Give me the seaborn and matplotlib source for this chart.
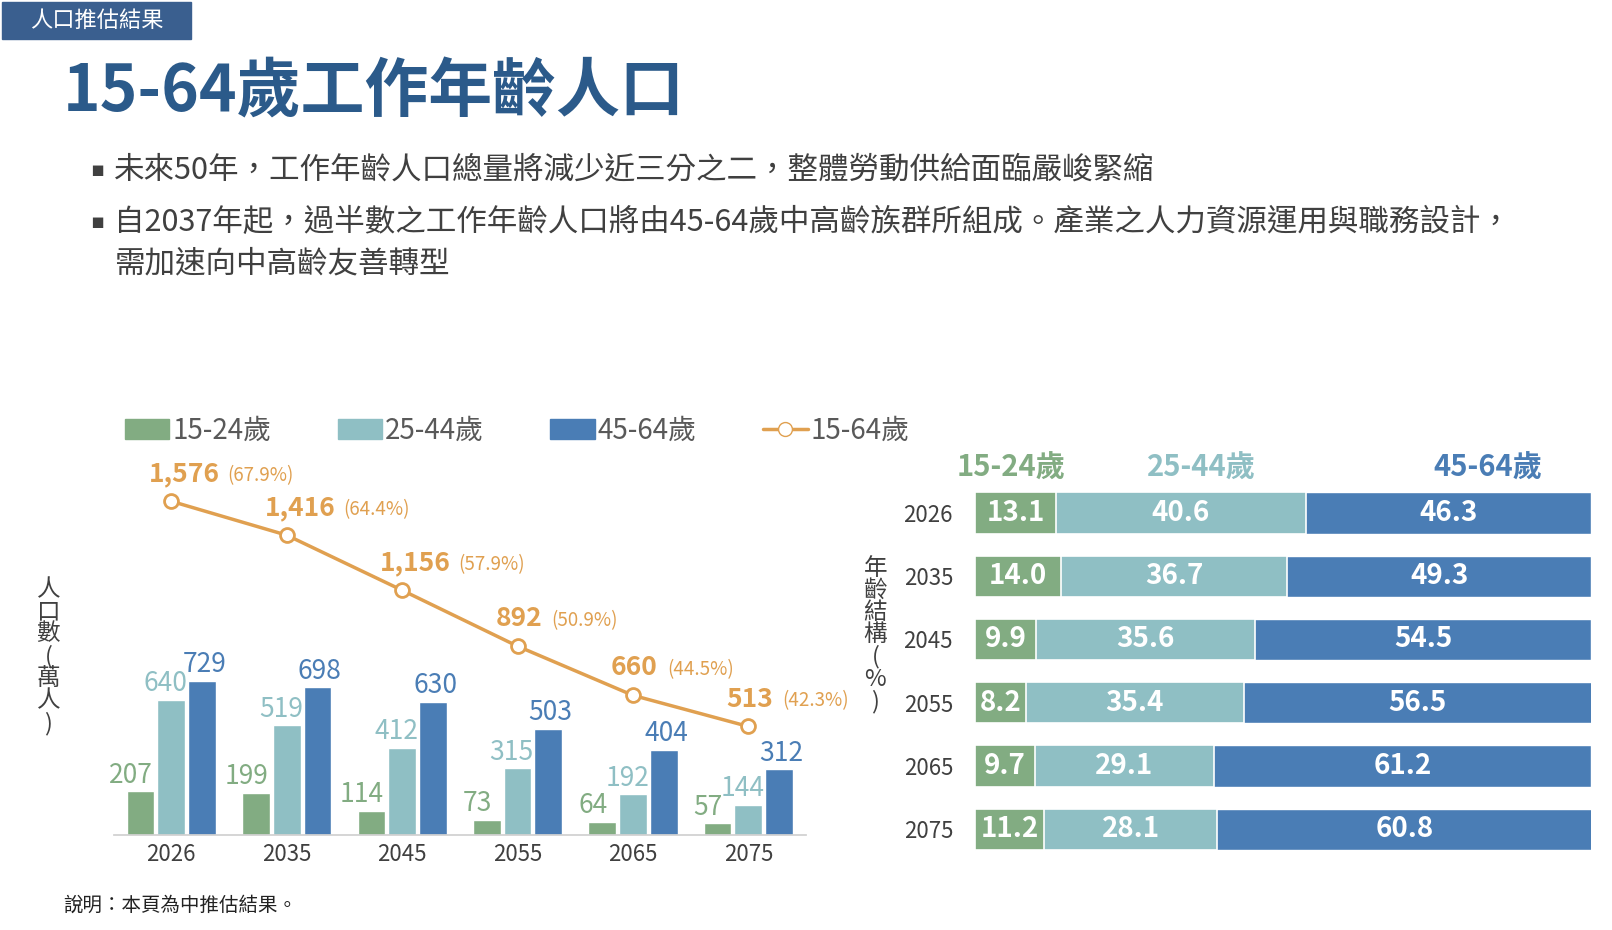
import numpy as np
import pandas as pd
import matplotlib
matplotlib.use("Agg")
import matplotlib.pyplot as plt
import seaborn as sns

years = ["2026", "2035", "2045", "2055", "2065", "2075"]
groups = ["15-24歲", "25-44歲", "45-64歲"]
pop_1524 = [207, 199, 114, 73, 64, 57]
pop_2544 = [640, 519, 412, 315, 192, 144]
pop_4564 = [729, 698, 630, 503, 404, 312]
pop_total = [1576, 1416, 1156, 892, 660, 513]
pct_total = ["67.9%", "64.4%", "57.9%", "50.9%", "44.5%", "42.3%"]
share_1524 = [13.1, 14.0, 9.9, 8.2, 9.7, 11.2]
share_2544 = [40.6, 36.7, 35.6, 35.4, 29.1, 28.1]
share_4564 = [46.3, 49.3, 54.5, 56.5, 61.2, 60.8]

GREEN, TEAL, BLUE, ORANGE = "#82ac82", "#8fbfc4", "#4a7db5", "#e0a050"
NAVY = "#2b5a8a"
GREY = "#404040"
COLS = [GREEN, TEAL, BLUE]

sns.set_theme(style="white")
plt.rcParams["font.family"] = ["Noto Sans CJK TC", "DejaVu Sans"]

fig = plt.figure(figsize=(16.12, 9.3), dpi=100)

# ─── header ──────────────────────────────────────────────────────────────
fig.patches.append(plt.Rectangle((0.0013, 0.958), 0.117, 0.04, transform=fig.transFigure,
                                 color="#3a5f8f", zorder=0))
fig.text(0.06, 0.978, "人口推估結果", color="white", fontsize=16, ha="center", va="center")
fig.text(0.039, 0.9, "15-64歲工作年齡人口", color=NAVY, fontsize=46, fontweight="bold",
         va="center")
bullets = [
    (0.817, "未來50年，工作年齡人口總量將減少近三分之二，整體勞動供給面臨嚴峻緊縮"),
    (0.761, "自2037年起，過半數之工作年齡人口將由45-64歲中高齡族群所組成。產業之人力資源運用與職務設計，"),
    (0.716, "需加速向中高齡友善轉型"),
]
for i, (y, t) in enumerate(bullets):
    if i < 2:
        fig.text(0.056, y, "▪", color=GREY, fontsize=15, va="center",
                 family=["DejaVu Sans"])
    fig.text(0.071, y, t, color=GREY, fontsize=22, va="center")
fig.text(0.039, 0.027, "說明：本頁為中推估結果。", color="#222222", fontsize=14, va="center")

# ─── left: population bars + total line ─────────────────────────────────
ax = fig.add_axes([0.0705, 0.102, 0.4295, 0.41])
df = pd.DataFrame({
    "year": years * 3,
    "group": [g for g in groups for _ in years],
    "value": pop_1524 + pop_2544 + pop_4564,
})
sns.barplot(data=df, x="year", y="value", hue="group", palette=COLS, ax=ax,
            width=0.8, gap=0.1, legend=False, saturation=1)
for cont, col in zip(ax.containers, COLS):
    for bar in cont:
        h = bar.get_height()
        dx = {GREEN: -0.08, TEAL: -0.05, BLUE: 0.02}[col]
        ax.text(bar.get_x() + bar.get_width() / 2 + dx, h + 12, f"{h:.0f}", color=col,
                fontsize=19, ha="center", va="bottom")
xs = np.arange(len(years))
sns.lineplot(x=xs, y=pop_total, ax=ax, color=ORANGE, lw=2.5, marker="o", markersize=10,
             markerfacecolor="white", markeredgecolor=ORANGE, markeredgewidth=2)
for x, v, p in zip(xs, pop_total, pct_total):
    s = f"{v:,}"
    ax.annotate(s, (x, v), xytext=(-16, 10), textcoords="offset points",
                color=ORANGE, fontsize=19, fontweight="bold", va="bottom")
    w = sum(4.5 if c == "," else 11.5 for c in s)
    ax.annotate(f"({p})", (x, v), xytext=(-16 + w + 6, 11),
                textcoords="offset points", color=ORANGE, fontsize=13.5, va="bottom")
ax.set_xlim(-0.5, 5.5)
ax.set_ylim(0, 1800)
ax.set_xlabel("")
ax.set_ylabel("")
ax.set_yticks([])
ax.tick_params(axis="x", labelsize=16, colors=GREY, length=0, pad=6)
for s in ["top", "right", "left"]:
    ax.spines[s].set_visible(False)
ax.spines["bottom"].set_color("#d0d0d0")
fig.text(0.030, 0.294, "人\n口\n數\n(\n萬\n人\n)", color=GREY, fontsize=17,
         ha="center", va="center", linespacing=0.95)

# legend
handles = [plt.Rectangle((0, 0), 1, 1, color=c) for c in COLS]
handles.append(plt.Line2D([], [], color=ORANGE, lw=2.5, marker="o", markersize=10,
                          markerfacecolor="white", markeredgecolor=ORANGE))
fig.legend(handles, groups + ["15-64歲"], loc="center left", bbox_to_anchor=(0.062, 0.537),
           ncol=4, frameon=False, fontsize=20, handlelength=1.6, columnspacing=2.4,
           handletextpad=0.1, labelcolor="#595959")

# ─── right: stacked share bars ──────────────────────────────────────────
ax2 = fig.add_axes([0.605, 0.0744, 0.382, 0.408])
cum2 = [a + b for a, b in zip(share_1524, share_2544)]
cum3 = [a + b for a, b in zip(cum2, share_4564)]
sns.barplot(x=cum3, y=years, color=BLUE, orient="h", ax=ax2, width=0.65, saturation=1)
sns.barplot(x=cum2, y=years, color=TEAL, orient="h", ax=ax2, width=0.65, saturation=1,
            edgecolor="white", linewidth=1.2)
sns.barplot(x=share_1524, y=years, color=GREEN, orient="h", ax=ax2, width=0.65, saturation=1,
            edgecolor="white", linewidth=1.2)
for i in range(len(years)):
    starts = [0, share_1524[i], cum2[i]]
    for s, w in zip(starts, [share_1524[i], share_2544[i], share_4564[i]]):
        ax2.text(s + w / 2, i, f"{w:.1f}", color="white", fontsize=20, fontweight="bold",
                 ha="center", va="center")
ax2.set_xlim(0, 100)
ax2.set_ylim(5.5, -0.5)
ax2.set_xticks([])
ax2.set_xlabel("")
ax2.set_ylabel("")
ax2.tick_params(axis="y", labelsize=16, colors=GREY, length=0, pad=16)
sns.despine(ax=ax2, left=True, bottom=True)
for name, col, xf in zip(groups, COLS, [0.627, 0.745, 0.923]):
    fig.text(xf, 0.497, name, color=col, fontsize=21, fontweight="bold", ha="center",
             va="center")
fig.text(0.543, 0.317, "年\n齡\n結\n構\n(\n%\n)", color=GREY, fontsize=17,
         ha="center", va="center", linespacing=0.95)

fig.savefig("out.png", dpi=100, facecolor="white")
